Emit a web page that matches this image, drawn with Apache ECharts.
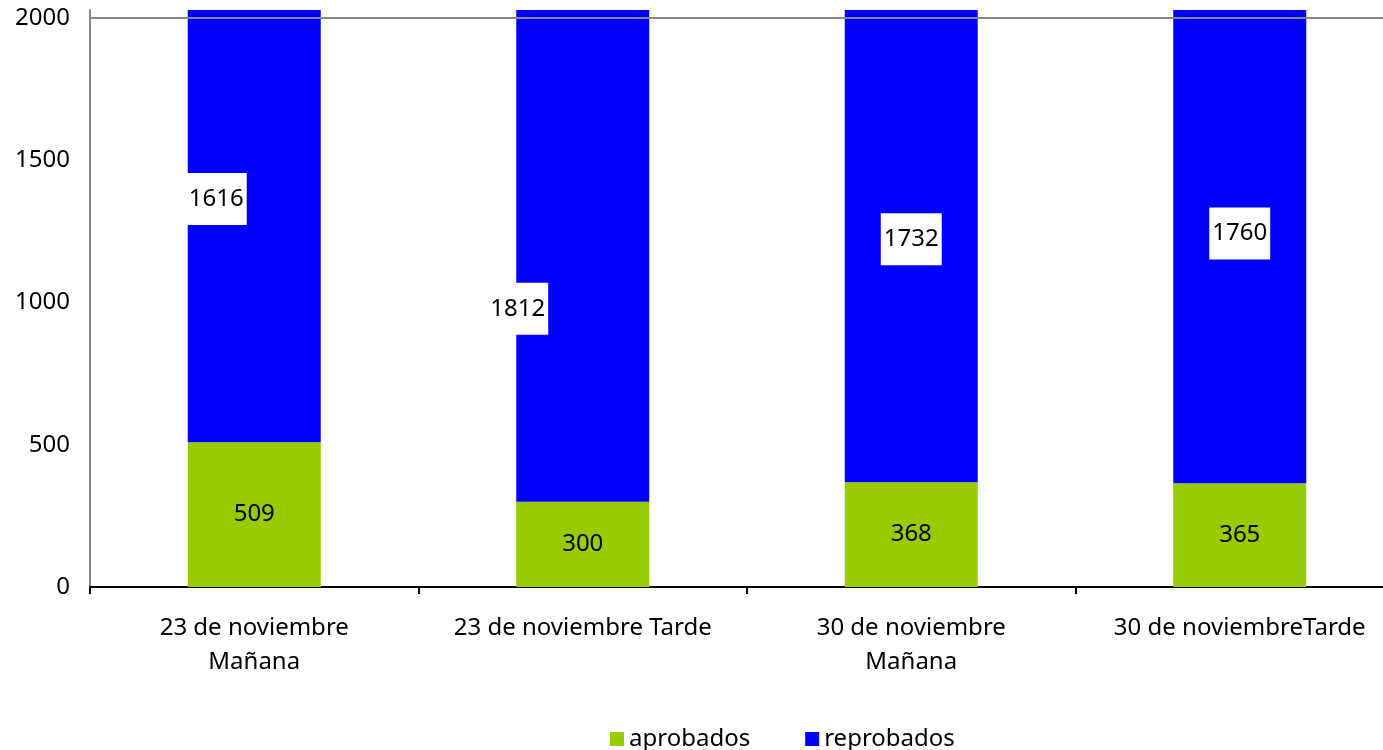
<!DOCTYPE html>
<html>
<head>
<meta charset="utf-8">
<title>aprobados / reprobados</title>
<script src="https://cdn.jsdelivr.net/npm/echarts@6/dist/echarts.min.js"></script>
</head>
<body style="margin:0">
	<div id="main" style="width: 1383px; height: 750px;"></div>

	<script type="text/javascript">
		var categories = ['23 de noviembre\nMañana', '23 de noviembre Tarde', '30 de noviembre\nMañana', '30 de noviembreTarde'];
		var aprobados = [509, 300, 368, 365];
		var reprobados = [1616, 1812, 1732, 1760];
		var yTicks = [0, 500, 1000, 1500, 2000];

		// etiquetas de reprobados movidas a mano, como en el original
		var labelOffsets = [[-38, -27], [-65, 53], [0, -7], [0, -13]];

		var myChart = echarts.init(document.getElementById('main'));
		var font = 'Noto Sans';

		var option = {
			animation: false,
			textStyle: { fontFamily: font },
			// el area del grafico sigue un poco fuera del borde derecho
			grid: { left: 90, width: 1314, top: 10, bottom: 163, containLabel: false, outerBoundsMode: 'none' },
			legend: {
				left: 605,
				top: 722,
				itemWidth: 14,
				itemHeight: 14,
				itemGap: 55,
				icon: 'rect',
				textStyle: { fontSize: 24, color: '#000', fontFamily: font },
				data: ['aprobados', 'reprobados']
			},
			xAxis: {
				type: 'category',
				data: categories,
				axisLine: { lineStyle: { color: '#000', width: 2 } },
				axisTick: { show: true, interval: 0, length: 7, lineStyle: { color: '#000', width: 2 } },
				axisLabel: { interval: 0, fontSize: 24, color: '#000', margin: 24, lineHeight: 34, fontFamily: font }
			},
			yAxis: {
				type: 'value',
				min: 0,
				max: 2028,
				interval: 500,
				splitLine: { show: false },
				axisTick: { show: false },
				axisLine: { show: true, lineStyle: { color: '#868686', width: 2 } },
				axisLabel: {
					fontSize: 24, color: '#000', margin: 20, fontFamily: font,
					formatter: function (v) { return yTicks.indexOf(v) >= 0 ? String(v) : ''; }
				}
			},
			series: [
				{
					name: 'aprobados',
					type: 'bar',
					stack: 'total',
					barWidth: 133,
					itemStyle: { color: '#99CC00' },
					label: { show: true, position: 'inside', color: '#000', fontSize: 24, fontFamily: font },
					data: aprobados,
					markLine: {
						silent: true,
						symbol: 'none',
						label: { show: false },
						lineStyle: { color: '#868686', width: 2, type: 'solid' },
						data: [{ yAxis: 2000 }]
					}
				},
				{
					name: 'reprobados',
					type: 'bar',
					stack: 'total',
					barWidth: 133,
					itemStyle: { color: '#0000FF' },
					data: reprobados.map(function (v, i) {
						return {
							value: v,
							label: {
								show: true,
								position: 'inside',
								color: '#000',
								fontSize: 24,
								fontFamily: font,
								backgroundColor: '#fff',
								padding: [14, 3],
								offset: labelOffsets[i]
							}
						};
					})
				}
			]
		};

		myChart.setOption(option);
	</script>
</body>
</html>
